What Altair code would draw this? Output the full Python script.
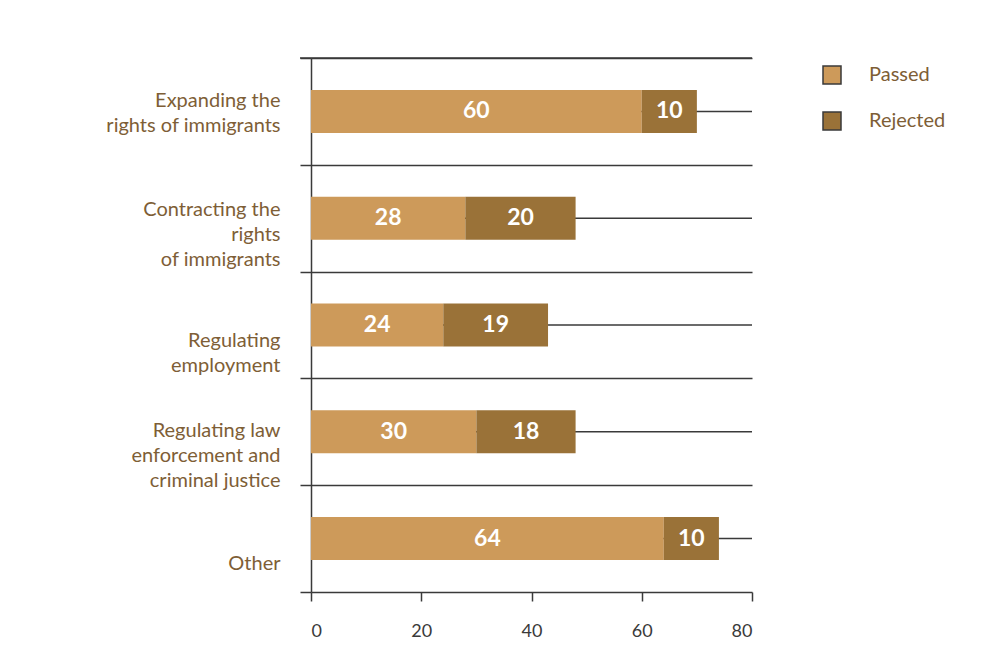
import altair as alt
import pandas as pd

categories = [
    "Expanding the|rights of immigrants",
    "Contracting the|rights|of immigrants",
    "Regulating|employment",
    "Regulating law|enforcement and|criminal justice",
    "Other",
]
passed = [60, 28, 24, 30, 64]
rejected = [10, 20, 19, 18, 10]
series = ["Passed", "Rejected"]
x_ticks = [0, 20, 40, 60, 80]

rows = []
for c, p, r in zip(categories, passed, rejected):
    rows.append({"category": c, "series": "Passed", "value": p, "order": 0})
    rows.append({"category": c, "series": "Rejected", "value": r, "order": 1})
df = pd.DataFrame(rows)

BROWN_TEXT = "#7e5e36"
DARK = "#3a3a3a"
FONT = "Lato"

y_enc = alt.Y(
    "category:N",
    sort=categories,
    scale=alt.Scale(paddingInner=0, paddingOuter=0),
    axis=alt.Axis(
        title=None,
        labelExpr="split(datum.label, '|')",
        tickBand="extent",
        grid=True,
        gridColor=DARK,
        gridWidth=1.5,
        domainColor=DARK,
        domainWidth=1.5,
        tickColor=DARK,
        tickWidth=1.5,
        tickSize=11,
        labelPadding=20,
        labelFont=FONT,
        labelFontSize=20,
        labelColor=BROWN_TEXT,
        labelLineHeight=25,
        labelAlign="right",
        labelBaseline="middle",
        labelOffset={
            "condition": [
                {"test": "datum.value == 'Expanding the|rights of immigrants'", "value": -11},
                {"test": "datum.value == 'Contracting the|rights|of immigrants'", "value": -9},
                {"test": "datum.value == 'Regulating|employment'", "value": 15},
                {"test": "datum.value == 'Other'", "value": 25},
            ],
            "value": -1,
        },
    ),
)

x_enc = alt.X(
    "x0:Q",
    scale=alt.Scale(domain=[0, 80], nice=False),
    axis=alt.Axis(
        title=None,
        orient="bottom",
        values=x_ticks,
        grid=False,
        domain=False,
        tickColor=DARK,
        tickWidth=1.5,
        tickSize=9,
        labelPadding=21,
        labelFont=FONT,
        labelFontSize=18,
        labelColor=DARK,
    ),
)

stacked = alt.Chart(df).transform_stack(
    stack="value", as_=["x0", "x1"], groupby=["category"], sort=[alt.SortField("order")]
).transform_calculate(mid="(datum.x0 + datum.x1) / 2")

center_rules = stacked.transform_filter(alt.datum.series == "Passed").mark_rule(
    color=DARK, strokeWidth=1.5
).encode(
    y=y_enc,
    x=alt.value(0),
    x2=alt.value(441),
)

top_rule = alt.Chart(pd.DataFrame({"k": [0]})).mark_rule(
    color=DARK, strokeWidth=1.5
).encode(
    y=alt.value(0),
    x=alt.value(-11),
    x2=alt.value(441),
)

bars = stacked.mark_bar(size=43).encode(
    y=y_enc,
    x=x_enc,
    x2="x1:Q",
    color=alt.Color(
        "series:N",
        scale=alt.Scale(domain=series, range=["#cd9a5a", "#9a7238"]),
        legend=alt.Legend(
            title=None,
            orient="none",
            legendX=511,
            legendY=7,
            symbolType="square",
            symbolSize=324,
            symbolStrokeColor=DARK,
            symbolStrokeWidth=1.5,
            symbolOpacity=1,
            labelFont=FONT,
            labelFontSize=20,
            labelColor=BROWN_TEXT,
            labelOffset=27,
            rowPadding=22,
        ),
    ),
)

labels = stacked.mark_text(
    color="white", font=FONT, fontWeight="bold", fontSize=23, baseline="middle", align="center"
).encode(
    y=y_enc,
    x=alt.X("mid:Q"),
    text=alt.Text("value:Q"),
)

chart = (
    alt.layer(center_rules, top_rule, bars, labels)
    .properties(
        width=441,
        height=534,
        background="white",
        padding={"left": 303, "top": 50, "right": 233, "bottom": 69},
        autosize=alt.AutoSizeParams(type="none"),
    )
    .configure_view(stroke=None)
)

chart.save("out.html", embed_options={"renderer": "svg", "actions": False})
